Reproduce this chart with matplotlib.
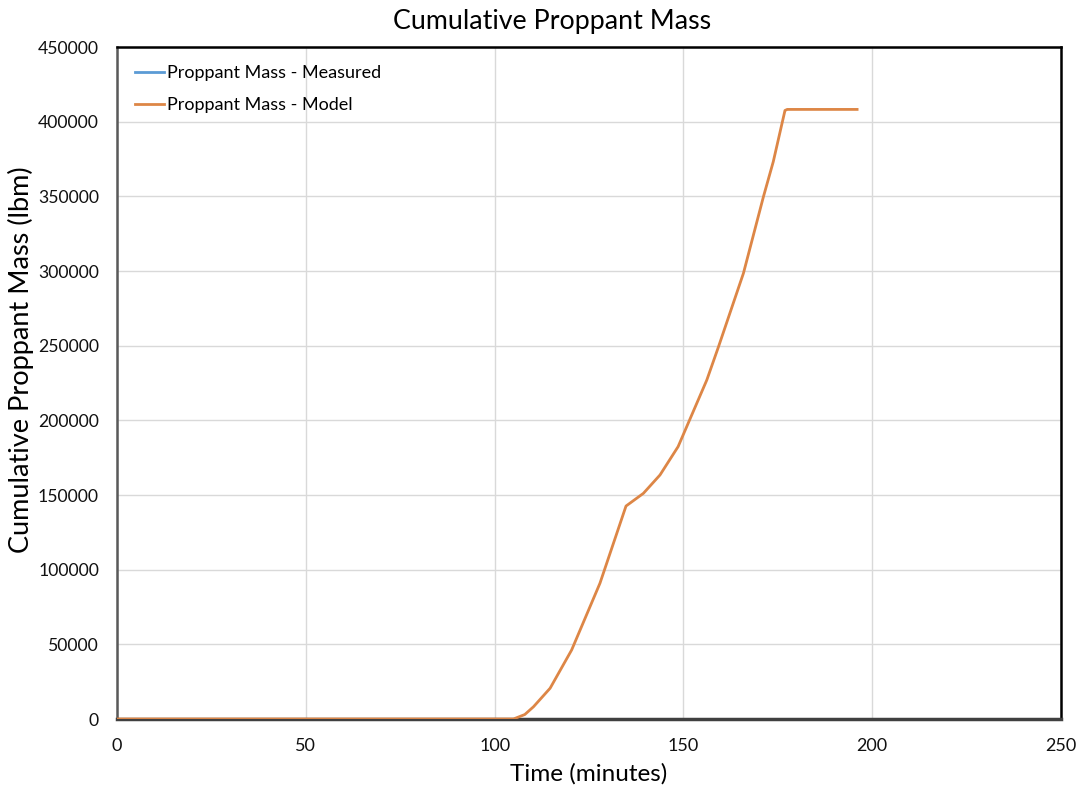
import matplotlib
matplotlib.use("Agg")
import matplotlib.pyplot as plt

# Data
time_model = [0, 105, 108, 110.3, 114.7, 120.4, 127.9, 134.8, 139.4, 143.8, 148.6,
              156.2, 159.3, 165.9, 171.2, 173.8, 176.9, 177.5, 196]
mass_model = [0, 0, 3000, 8200, 20600, 46200, 90900, 142600, 151100, 163400, 182400,
              227000, 249300, 298500, 349800, 373200, 407500, 408200, 408200]
time_measured = []
mass_measured = []

x_ticks = [0, 50, 100, 150, 200, 250]
y_ticks = list(range(0, 450001, 50000))

plt.rcParams['font.family'] = ['Lato', 'DejaVu Sans']

fig = plt.figure(figsize=(10.82, 7.93), dpi=100)
ax = fig.add_axes([117/1082, 1-719/793, (1061-117)/1082, (719-47)/793])

ax.plot(time_measured, mass_measured, color='#5b9bd5', lw=2, label='Proppant Mass - Measured')
ax.plot(time_model, mass_model, color='#dd8646', lw=2.0, label='Proppant Mass - Model', zorder=3)

ax.set_xlim(0, 250)
ax.set_ylim(0, 450000)
ax.set_xticks(x_ticks)
ax.set_yticks(y_ticks)
ax.set_xticklabels([str(v) for v in x_ticks], fontsize=13)
ax.set_yticklabels([str(v) for v in y_ticks], fontsize=12.7)
ax.tick_params(axis='x', length=0, pad=14, colors='#111111')
ax.tick_params(axis='y', length=0, pad=13, colors='#111111')
ax.grid(True, color='#d9d9d9', lw=1)
ax.set_axisbelow(True)

for side in ['top', 'right']:
    ax.spines[side].set_color('black')
    ax.spines[side].set_linewidth(1.8)
ax.spines['left'].set_color('#595959')
ax.spines['left'].set_linewidth(1.8)
ax.spines['bottom'].set_color('#404040')
ax.spines['bottom'].set_linewidth(2.5)

fig.text(552/1082, 1-21/793, 'Cumulative Proppant Mass', fontsize=19.3, ha='center', va='center')
ax.set_xlabel('Time (minutes)', fontsize=17.5, labelpad=6)
ax.set_ylabel('Cumulative Proppant Mass (lbm)', fontsize=19.5)
ax.yaxis.set_label_coords((34 - 117) / (1061 - 117), (719 - 360) / (719 - 47))

leg = ax.legend(loc='upper left', frameon=False, fontsize=13, handlelength=1.6,
                handletextpad=0.15, borderaxespad=0.6, labelspacing=0.9)

fig.savefig('out.png', dpi=100)
